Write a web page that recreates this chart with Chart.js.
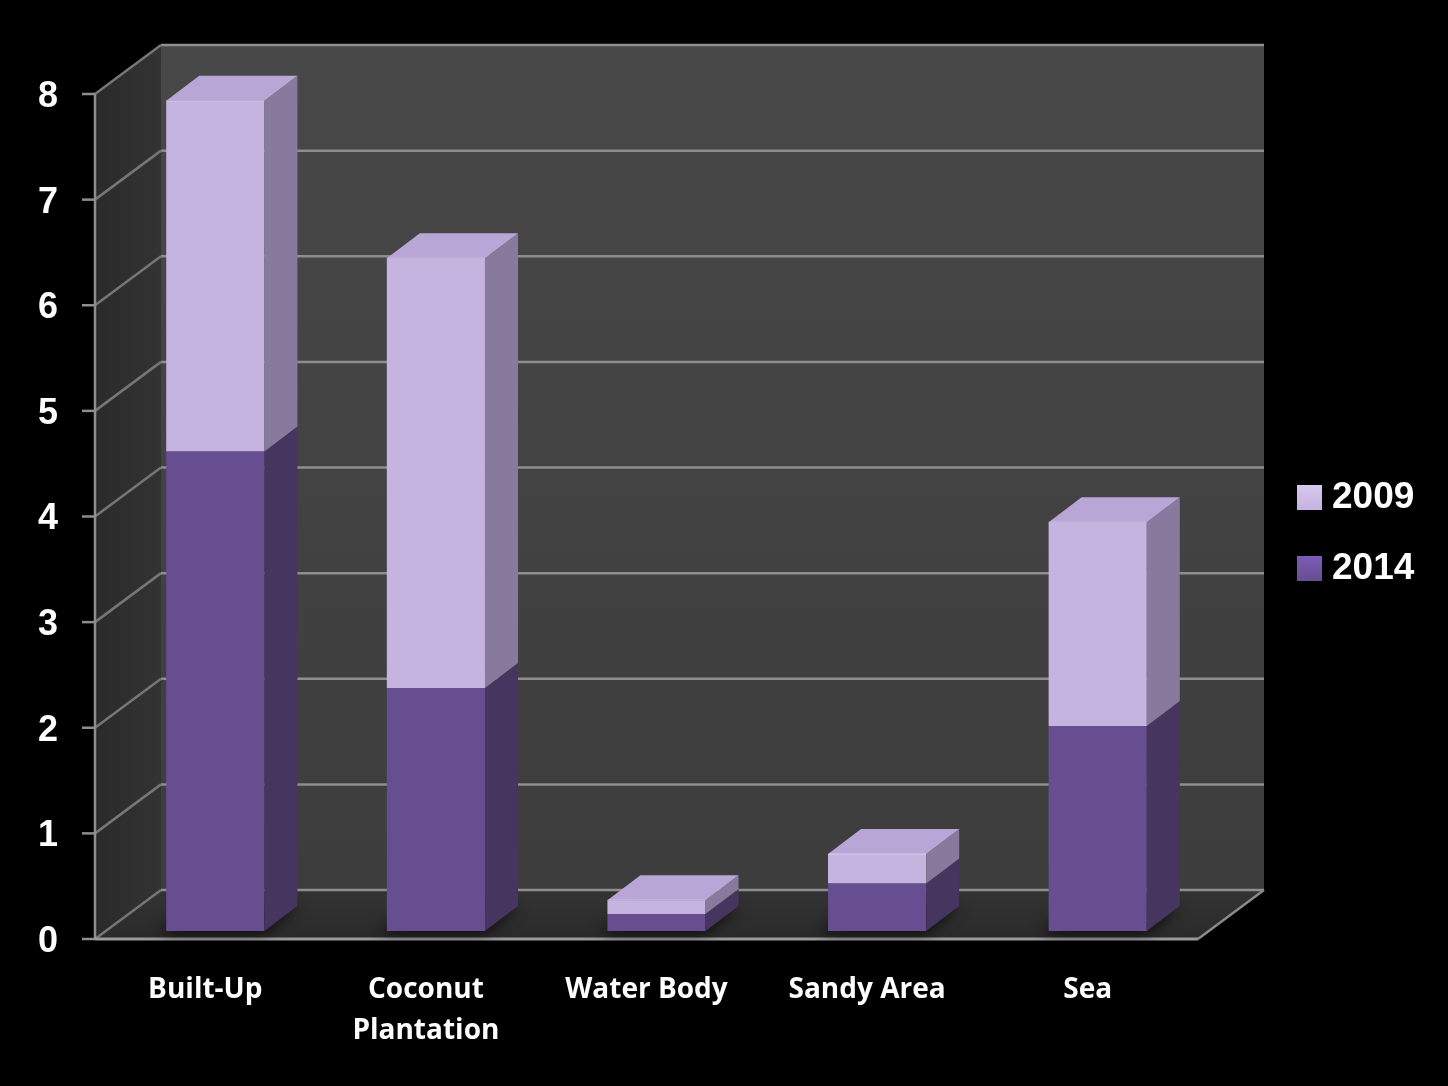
<!DOCTYPE html>
<html>
<head>
<meta charset="utf-8">
<title>Land use 2009 / 2014</title>
<script src="https://cdn.jsdelivr.net/npm/chart.js@4.4.1/dist/chart.umd.min.js"></script>
<style>
  html, body { margin: 0; padding: 0; background: #000; }
  #wrap { width: 1448px; height: 1086px; }
</style>
</head>
<body>
<div id="wrap"><canvas id="myChart" width="1448" height="1086"></canvas></div>
<script>
// data
var categories = ['Built-Up', ['Coconut', 'Plantation'], 'Water Body', 'Sandy Area', 'Sea'];
var seriesNames = ['2014', '2009'];
var values2014 = [4.54, 2.30, 0.16, 0.45, 1.94];
var values2009 = [3.32, 4.07, 0.13, 0.28, 1.93];
var yTicks = [0, 1, 2, 3, 4, 5, 6, 7, 8];

// look of the fake 3d box
var frontColors = ['#674e90', '#c5b3e0'];
var sideColors = ['#45355f', '#877a9c'];
var topColors = ['#5a4580', '#b8a7d6'];
var legendColors = ['#7b5cb8', '#d6c8ee'];

var FRONT = {dx: -10, dy: 8};   // axis plane relative to bar faces
var BACK = {dx: 56, dy: -41};   // back wall relative to bar faces
var DEPTH = {dx: 33, dy: -25};  // depth of one bar

var landChart;

function poly(ctx, pts, fill) {
  ctx.beginPath();
  ctx.moveTo(pts[0][0], pts[0][1]);
  for (var i = 1; i < pts.length; i++) ctx.lineTo(pts[i][0], pts[i][1]);
  ctx.closePath();
  ctx.fillStyle = fill;
  ctx.fill();
}

function seg(ctx, x1, y1, x2, y2, color, w) {
  ctx.beginPath();
  ctx.moveTo(x1, y1);
  ctx.lineTo(x2, y2);
  ctx.strokeStyle = color;
  ctx.lineWidth = w;
  ctx.stroke();
}

function barBox(el) {
  var p = el.getProps(['x', 'y', 'base', 'width'], true);
  return {
    left: p.x - p.width / 2,
    right: p.x + p.width / 2,
    top: Math.min(p.y, p.base),
    bottom: Math.max(p.y, p.base)
  };
}

var box3d = {
  id: 'box3d',
  beforeDatasetsDraw: function(chart) {
    var ctx = chart.ctx, a = chart.chartArea, ys = chart.scales.y;
    var top = ys.getPixelForValue(ys.max), bot = ys.getPixelForValue(0);
    var fl = a.left + FRONT.dx, fr = a.right + FRONT.dx;
    var bl = a.left + BACK.dx, br = a.right + BACK.dx;

    ctx.save();
    // back wall
    var g = ctx.createLinearGradient(0, top + BACK.dy, 0, bot + BACK.dy);
    g.addColorStop(0, '#484848');
    g.addColorStop(1, '#3d3d3d');
    poly(ctx, [[bl, top + BACK.dy], [br, top + BACK.dy], [br, bot + BACK.dy], [bl, bot + BACK.dy]], g);

    // left wall
    var g2 = ctx.createLinearGradient(fl, 0, bl, 0);
    g2.addColorStop(0, '#2a2a2a');
    g2.addColorStop(1, '#333333');
    poly(ctx, [[fl, top + FRONT.dy], [bl, top + BACK.dy], [bl, bot + BACK.dy], [fl, bot + FRONT.dy]], g2);

    // floor
    var g3 = ctx.createLinearGradient(0, bot + BACK.dy, 0, bot + FRONT.dy);
    g3.addColorStop(0, '#333333');
    g3.addColorStop(1, '#2a2a2a');
    poly(ctx, [[fl, bot + FRONT.dy], [fr, bot + FRONT.dy], [br, bot + BACK.dy], [bl, bot + BACK.dy]], g3);

    // grid on back wall + left wall, tick marks on front axis
    ys.ticks.forEach(function(t) {
      var py = ys.getPixelForValue(t.value);
      seg(ctx, bl, py + BACK.dy, br, py + BACK.dy, '#8e8e8e', 2.5);
      seg(ctx, fl, py + FRONT.dy, bl, py + BACK.dy, '#767676', 2.5);
      seg(ctx, fl - 13, py + FRONT.dy, fl, py + FRONT.dy, '#8e8e8e', 2.5);
    });
    // front axis line, floor front edge and right edge
    seg(ctx, fl, top + FRONT.dy, fl, bot + FRONT.dy, '#8e8e8e', 2.5);
    seg(ctx, fl, bot + FRONT.dy, fr, bot + FRONT.dy, '#9a9a9a', 3);
    seg(ctx, fr, bot + FRONT.dy, br, bot + BACK.dy, '#8a8a8a', 2.5);

    // soft shadows of the bars on the floor
    var meta = chart.getDatasetMeta(0);
    ctx.filter = 'blur(7px)';
    meta.data.forEach(function(el) {
      var b = barBox(el);
      poly(ctx, [[b.left - 8, b.bottom + 3], [b.right, b.bottom + 3],
                 [b.right + DEPTH.dx, b.bottom + DEPTH.dy], [b.left + DEPTH.dx - 8, b.bottom + DEPTH.dy]],
           'rgba(0,0,0,0.7)');
    });
    ctx.filter = 'none';
    ctx.restore();
  },
  afterDatasetsDraw: function(chart) {
    var ctx = chart.ctx;
    var n = chart.data.datasets.length;
    ctx.save();
    for (var d = 0; d < n; d++) {
      var meta = chart.getDatasetMeta(d);
      meta.data.forEach(function(el, i) {
        var b = barBox(el);
        if (b.bottom - b.top < 0.5) return;
        // right side
        poly(ctx, [[b.right, b.top], [b.right + DEPTH.dx, b.top + DEPTH.dy],
                   [b.right + DEPTH.dx, b.bottom + DEPTH.dy], [b.right, b.bottom]], sideColors[d]);
        // top face only on the highest piece of the stack
        var isTop = true;
        for (var k = d + 1; k < n; k++) {
          if (chart.data.datasets[k].data[i] > 0) isTop = false;
        }
        if (isTop) {
          poly(ctx, [[b.left, b.top], [b.right, b.top],
                     [b.right + DEPTH.dx, b.top + DEPTH.dy], [b.left + DEPTH.dx, b.top + DEPTH.dy]], topColors[d]);
          seg(ctx, b.left, b.top, b.right, b.top, 'rgba(255,255,255,0.25)', 1.5);
        }
      });
    }
    ctx.restore();
  },
  afterDraw: function(chart) {
    // legend, newest series on top like the original
    var ctx = chart.ctx, a = chart.chartArea;
    var x = a.right + 89, y = 497;
    ctx.save();
    ctx.font = 'bold 37px "Liberation Sans", Arial, sans-serif';
    ctx.textBaseline = 'middle';
    for (var d = chart.data.datasets.length - 1; d >= 0; d--) {
      var g = ctx.createLinearGradient(0, y - 12, 0, y + 13);
      g.addColorStop(0, legendColors[d]);
      g.addColorStop(1, frontColors[d]);
      ctx.fillStyle = g;
      ctx.fillRect(x, y - 12, 25, 25);
      ctx.fillStyle = '#ffffff';
      ctx.fillText(chart.data.datasets[d].label, x + 35, y + 1);
      y += 71;
    }
    ctx.restore();
  }
};

function drawChart() {
  var ctx = document.getElementById('myChart');

  landChart = new Chart(ctx, {
    type: 'bar',
    data: {
      labels: categories,
      datasets: [{
        label: seriesNames[0],
        data: values2014,
        backgroundColor: frontColors[0]
      }, {
        label: seriesNames[1],
        data: values2009,
        backgroundColor: frontColors[1]
      }]
    },
    options: {
      responsive: false,
      animation: false,
      devicePixelRatio: 1,
      layout: {
        padding: {left: 0, right: 240, top: 86, bottom: 0}
      },
      datasets: {
        bar: {categoryPercentage: 1, barPercentage: 0.445}
      },
      plugins: {
        legend: {display: false},
        tooltip: {enabled: false}
      },
      scales: {
        x: {
          stacked: true,
          grid: {display: false, drawTicks: false, tickLength: 0},
          border: {display: false},
          ticks: {
            color: '#ffffff',
            font: {family: '"Open Sans", sans-serif', size: 28, weight: 'bold', lineHeight: 1.45},
            padding: 39,
            labelOffset: FRONT.dx,
            maxRotation: 0,
            autoSkip: false
          },
          afterFit: function(s) { s.height = 155; }
        },
        y: {
          stacked: true,
          min: 0,
          max: 8,
          grid: {display: false, drawTicks: false, tickLength: 0},
          border: {display: false},
          ticks: {
            color: '#ffffff',
            font: {family: '"Liberation Sans", Arial, sans-serif', size: 36, weight: 'bold'},
            padding: 47,
            labelOffset: FRONT.dy + 3
          },
          afterBuildTicks: function(s) {
            s.ticks = yTicks.map(function(v) { return {value: v}; });
          },
          afterFit: function(s) { s.width = 105; }
        }
      }
    },
    plugins: [box3d]
  });
}

window.onload = function() {
  drawChart();
};
</script>
</body>
</html>
